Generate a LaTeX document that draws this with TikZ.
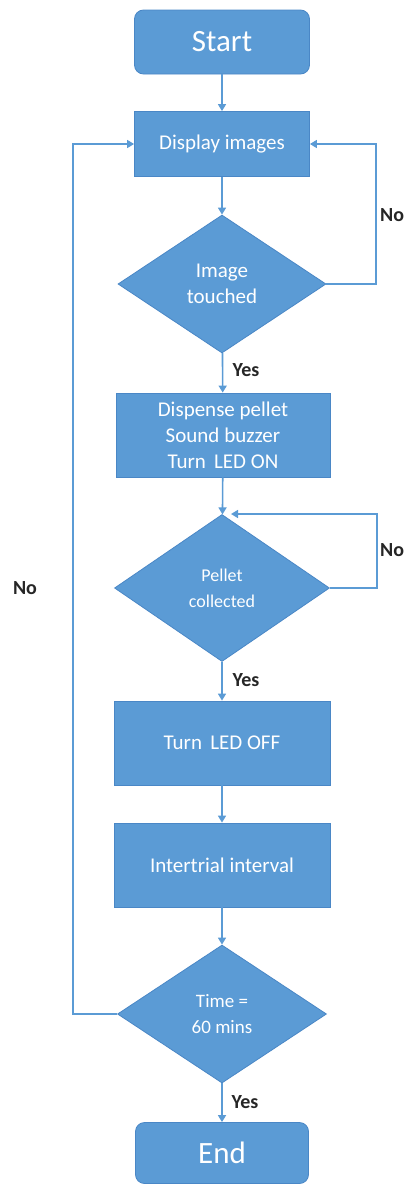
\documentclass[tikz,border=0pt]{standalone}
\usepackage{fontspec}
\setmainfont{Carlito}
\usetikzlibrary{shapes.geometric,arrows.meta}
\definecolor{boxfill}{HTML}{5B9BD5}
\definecolor{boxline}{HTML}{4A87C6}
\definecolor{conn}{HTML}{5B9BD5}
\begin{document}
\begin{tikzpicture}[x=1pt,y=1pt,
  proc/.style={draw=boxline,line width=0.8pt,fill=boxfill,text=white,align=center,inner sep=0pt,font=\fontsize{21}{26}\selectfont},
  term/.style={proc,rounded corners=9pt,font=\fontsize{31}{36}\selectfont},
  dec/.style={proc,diamond,aspect=1.5},
  arr/.style={draw=conn,line width=1.6pt,-{Triangle[width=8pt,length=7pt]}},
  lab/.style={font=\fontsize{20}{24}\selectfont\bfseries,text=black!85,inner sep=0pt}]
\useasboundingbox (0,0) rectangle (404,-1186);
\node[term,minimum width=175pt,minimum height=64pt] (start) at (222,-42) {Start};
\node[proc,minimum width=175pt,minimum height=65pt] (disp) at (222,-144) {Display images};
\node[dec,minimum width=208pt,minimum height=138pt] (img) at (222,-284) {Image\\touched};
\node[proc,minimum width=214pt,minimum height=84pt] (disp2) at (223,-435) {Dispense pellet\\Sound buzzer\\Turn\, LED ON};
\node[dec,minimum width=215pt,minimum height=147pt,font=\fontsize{18}{26}\selectfont] (pel) at (222,-588) {Pellet\\collected};
\node[proc,minimum width=216pt,minimum height=84pt] (off) at (222,-743) {Turn\, LED OFF};
\node[proc,minimum width=216pt,minimum height=84pt] (inter) at (222,-865) {Intertrial interval};
\node[dec,minimum width=209pt,minimum height=138pt,font=\fontsize{19}{26}\selectfont] (time) at (222,-1014) {Time =\\60 mins};
\node[term,minimum width=173pt,minimum height=61pt] (end) at (222,-1153) {End};
\coordinate (r1) at (376,-284);
\coordinate (r2) at (377,-588);
\coordinate (r2t) at (377,-514);
\coordinate (pn) at (231,-514);
\coordinate (l1) at (73,-1014);
\draw[arr] (start) -- (disp);
\draw[arr] (disp) -- (img);
\draw[arr] (img) -- (disp2);
\draw[arr] (img.east) -- (r1) |- (disp.east);
\draw[arr] (disp2) -- (pel);
\draw[arr] (pel.east) -- (r2) -- (r2t) -- (pn);
\draw[arr] (pel) -- (off);
\draw[arr] (off) -- (inter);
\draw[arr] (inter) -- (time);
\draw[arr] (time) -- (end);
\draw[arr] (time.west) -- (l1) |- (disp.west);
\node[lab] (y1) at (246,-370) {Yes};
\node[lab] (y2) at (246,-680) {Yes};
\node[lab] (y3) at (245,-1102) {Yes};
\node[lab,anchor=west] (n1) at (380,-215) {No};
\node[lab,anchor=west] (n2) at (380,-550) {No};
\node[lab] (n3) at (25,-588) {No};
\end{tikzpicture}
\end{document}
